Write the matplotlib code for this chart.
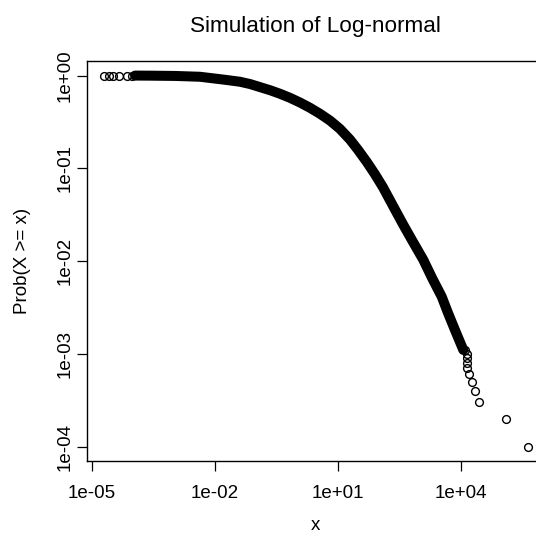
import numpy as np
import matplotlib
matplotlib.use('Agg')
import matplotlib.pyplot as plt

plt.rcParams['font.family'] = ['Liberation Sans', 'DejaVu Sans']

# sparse circles at the left end, P close to 1
left_x = [1.95e-5, 2.57e-5, 3.39e-5, 4.68e-5, 7.24e-5, 9.55e-5]
left_p = [1.0, 0.9999, 0.9998, 0.9997, 0.9996, 0.9995]

# dense part of the sample, read along the middle of the black band
band_x = [1.14e-4, 2.63e-4, 1.07e-3, 4.35e-3, 0.0176, 0.0409, 0.0716, 0.220,
          0.385, 0.675, 1.18, 2.07, 3.63, 6.35, 11.1, 19.5, 30.6, 50.7,
          79.3, 124, 244, 381, 621, 1191, 1941, 3342, 4764, 7047, 11220]
band_p = [0.999, 0.997, 0.99, 0.97, 0.90, 0.857, 0.81, 0.695,
          0.636, 0.575, 0.512, 0.449, 0.387, 0.327, 0.266, 0.204, 0.158,
          0.116, 0.0861, 0.0624, 0.0358, 0.0249, 0.0170, 0.0103, 0.00658,
          0.00413, 0.00275, 0.0018, 0.0011]

# largest values of the sample, P = k / 10000
tail_x = [12590, 13490, 13650, 13800, 13960, 15100, 18240, 21130, 27040,
          125300, 415900]
tail_p = [11e-4, 10e-4, 9e-4, 8e-4, 7e-4, 6e-4, 5e-4, 4e-4, 3e-4, 2e-4, 1e-4]

x_ticks = [1e-5, 1e-2, 1e1, 1e4]
x_tick_labels = ['1e-05', '1e-02', '1e+01', '1e+04']
y_ticks = [1e0, 1e-1, 1e-2, 1e-3, 1e-4]
y_tick_labels = ['1e+00', '1e-01', '1e-02', '1e-03', '1e-04']


def plot_ccdf():
    fig = plt.figure(figsize=(5.36, 5.37), dpi=100)
    ax = fig.add_axes([86.7 / 536, 1 - 461.4 / 537, 458.0 / 536, 400.7 / 537])

    ax.plot(band_x, band_p, '-', color='black', lw=7.2, solid_capstyle='round',
            solid_joinstyle='round')
    ax.plot(left_x, left_p, 'o', mfc='none', mec='black', ms=5.6, mew=1.0)
    ax.plot(tail_x, tail_p, 'o', mfc='none', mec='black', ms=5.6, mew=1.0)

    ax.set_xscale('log')
    ax.set_yscale('log')
    ax.set_xlim(10 ** -5.122, 10 ** 6.032)
    ax.set_ylim(10 ** -4.16, 10 ** 0.16)

    ax.set_xticks(x_ticks)
    ax.set_xticklabels(x_tick_labels)
    ax.set_yticks(y_ticks)
    ax.set_yticklabels(y_tick_labels, rotation=90, va='center')
    ax.minorticks_off()
    ax.tick_params(axis='both', length=7.2, width=0.9, labelsize=13.5,
                   colors='black')
    ax.tick_params(axis='x', pad=9.5)
    ax.tick_params(axis='y', pad=2.5)
    for s in ax.spines.values():
        s.set_linewidth(1.0)

    ax.set_xlabel('x', fontsize=13.5, labelpad=11)
    ax.set_ylabel('Prob(X >= x)', fontsize=13.5, labelpad=18)
    ax.set_title('Simulation of Log-normal', fontsize=16.2, pad=21)

    fig.savefig('out.png', dpi=100)
    plt.close(fig)


plot_ccdf()
